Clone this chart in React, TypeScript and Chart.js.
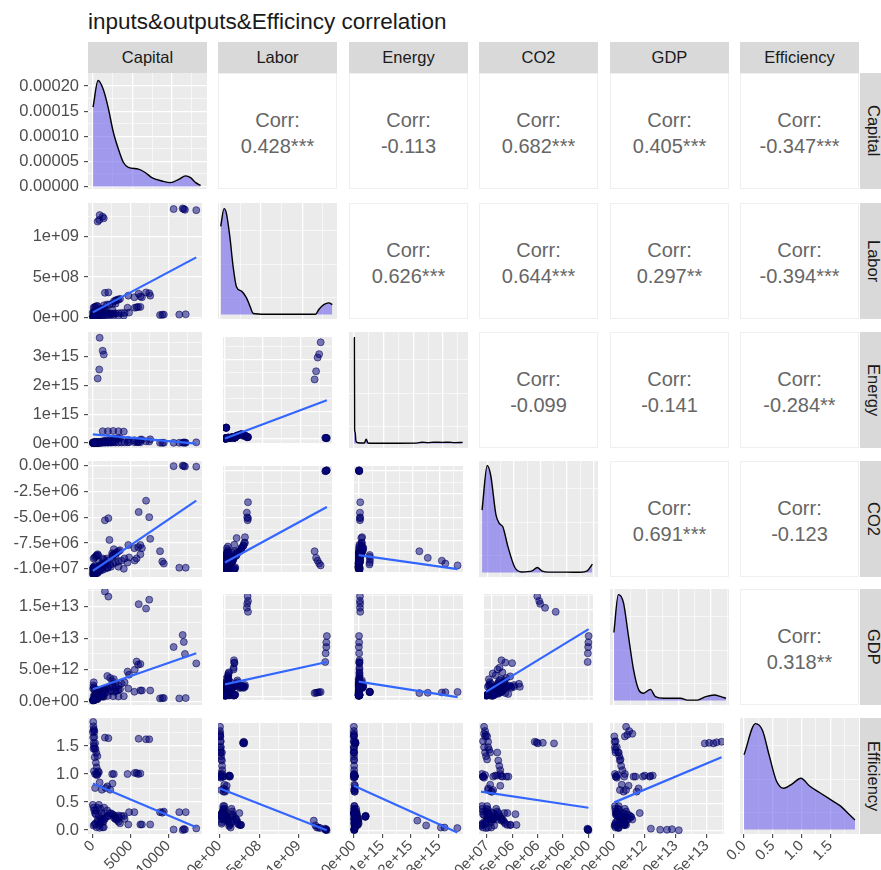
import React, { useEffect, useRef } from 'react';
import { Chart, registerables } from 'chart.js';
Chart.register(...registerables);

const FONT = '"Liberation Sans", Arial, Helvetica, sans-serif';
Chart.defaults.font.family = FONT;

const variables = ['Capital', 'Labor', 'Energy', 'CO2', 'GDP', 'Efficiency'];
const chartTitle = 'inputs&outputs&Efficincy correlation';

// ---- observations (groups of country-years) ----
const capital = [
  10700, 11900, 12050, 12200, 13700,
  640, 850, 1450, 1300, 900,
  1600, 2060, 7470, 6070, 7050,
  4600, 5550, 5800, 6000, 6300,
  8900, 9200, 9400, 11450, 12300,
  1300, 2000, 2700, 3400, 4100,
  5500, 4700, 6300, 6500, 7600,
  50, 80, 120, 160, 200,
  200, 300, 350, 450, 600,
  100, 250, 400, 500, 700,
  640, 2560, 2780, 2300, 1920,
  150, 300, 450, 550, 800,
  300, 900, 1200, 1700, 2600,
  0, 100, 200, 300, 400,
  800, 1000, 1200, 1400, 1600,
  1500, 1900, 2200, 2600, 3000,
  2800, 3000, 3200, 3400, 3600,
  100, 250, 350, 500, 650,
  3000, 3400, 3800, 4200, 4800,
  400, 600, 800, 1000, 1200,
  1000, 1300, 1600, 2000, 2400,
  0, 50, 100, 150, 250,
];
const labor = [
  1.345e9, 1.352e9, 1.345e9, 1.336e9, 1.331e9,
  1.19e9, 1.21e9, 1.23e9, 1.25e9, 1.27e9,
  0.305e9, 0.31e9, 0.30e9, 0.295e9, 0.31e9,
  0.12e9, 0.12e9, 0.125e9, 0.13e9, 0.13e9,
  0.03e9, 0.032e9, 0.035e9, 0.035e9, 0.038e9,
  0.02e9, 0.021e9, 0.022e9, 0.022e9, 0.023e9,
  0.25e9, 0.27e9, 0.26e9, 0.25e9, 0.27e9,
  0.006e9, 0.006e9, 0.007e9, 0.007e9, 0.007e9,
  0.015e9, 0.016e9, 0.017e9, 0.018e9, 0.02e9,
  0.03e9, 0.03e9, 0.032e9, 0.034e9, 0.035e9,
  0.04e9, 0.045e9, 0.045e9, 0.05e9, 0.05e9,
  0.008e9, 0.01e9, 0.012e9, 0.012e9, 0.015e9,
  0.02e9, 0.06e9, 0.07e9, 0.08e9, 0.09e9,
  0.06e9, 0.065e9, 0.07e9, 0.07e9, 0.075e9,
  0.09e9, 0.1e9, 0.1e9, 0.11e9, 0.11e9,
  0.15e9, 0.16e9, 0.16e9, 0.17e9, 0.17e9,
  0.2e9, 0.21e9, 0.22e9, 0.22e9, 0.23e9,
  0.12e9, 0.13e9, 0.13e9, 0.14e9, 0.14e9,
  0.05e9, 0.05e9, 0.055e9, 0.055e9, 0.06e9,
  0.04e9, 0.045e9, 0.045e9, 0.05e9, 0.05e9,
  0.025e9, 0.028e9, 0.03e9, 0.032e9, 0.035e9,
  0.01e9, 0.01e9, 0.011e9, 0.012e9, 0.012e9,
];
const energy = [
  0.01e15, 0.015e15, 0.02e15, 0.02e15, 0.025e15,
  2.24e15, 2.55e15, 3.07e15, 3.2e15, 3.65e15,
  0.05e15, 0.05e15, 0.055e15, 0.05e15, 0.06e15,
  0.03e15, 0.03e15, 0.035e15, 0.03e15, 0.03e15,
  0.01e15, 0.01e15, 0.012e15, 0.012e15, 0.01e15,
  0.41e15, 0.41e15, 0.42e15, 0.41e15, 0.40e15,
  0.10e15, 0.11e15, 0.12e15, 0.12e15, 0.13e15,
  0.002e15, 0.002e15, 0.003e15, 0.003e15, 0.003e15,
  0.005e15, 0.005e15, 0.006e15, 0.006e15, 0.007e15,
  0.01e15, 0.01e15, 0.011e15, 0.012e15, 0.012e15,
  0.02e15, 0.03e15, 0.03e15, 0.035e15, 0.03e15,
  0.004e15, 0.004e15, 0.005e15, 0.005e15, 0.006e15,
  0.01e15, 0.02e15, 0.025e15, 0.03e15, 0.04e15,
  0.02e15, 0.02e15, 0.022e15, 0.022e15, 0.025e15,
  0.04e15, 0.045e15, 0.05e15, 0.05e15, 0.055e15,
  0.08e15, 0.09e15, 0.1e15, 0.11e15, 0.12e15,
  0.14e15, 0.15e15, 0.16e15, 0.16e15, 0.17e15,
  0.03e15, 0.03e15, 0.032e15, 0.035e15, 0.035e15,
  0.02e15, 0.02e15, 0.022e15, 0.025e15, 0.03e15,
  0.015e15, 0.015e15, 0.016e15, 0.018e15, 0.02e15,
  0.012e15, 0.013e15, 0.014e15, 0.015e15, 0.016e15,
  0.002e15, 0.002e15, 0.002e15, 0.003e15, 0.003e15,
];
const co2 = [
  -0.05e6, 0, -0.03e6, -0.08e6, -0.1e6,
  -8.6e6, -9.3e6, -9.6e6, -9.9e6, -10.1e6,
  -5.3e6, -5.1e6, -5.0e6, -4.5e6, -3.4e6,
  -9.4e6, -9.2e6, -9.0e6, -7.9e6, -8.6e6,
  -8.3e6, -9.3e6, -9.5e6, -9.9e6, -9.9e6,
  -9.0e6, -9.2e6, -9.5e6, -9.8e6, -10.0e6,
  -8.0e6, -7.7e6, -7.7e6, -8.0e6, -7.1e6,
  -10.3e6, -10.2e6, -10.3e6, -10.1e6, -10.2e6,
  -10.4e6, -10.3e6, -10.2e6, -10.1e6, -10.0e6,
  -9.0e6, -8.9e6, -8.8e6, -8.7e6, -8.7e6,
  -10.4e6, -8.5e6, -8.1e6, -9.6e6, -9.9e6,
  -10.5e6, -10.4e6, -10.4e6, -10.3e6, -10.2e6,
  -9.9e6, -9.7e6, -9.5e6, -9.4e6, -8.7e6,
  -10.5e6, -10.5e6, -10.4e6, -10.4e6, -10.3e6,
  -9.8e6, -9.7e6, -9.7e6, -9.6e6, -9.5e6,
  -9.1e6, -9.0e6, -7.2e6, -8.8e6, -8.7e6,
  -8.6e6, -8.5e6, -8.4e6, -8.3e6, -8.2e6,
  -10.6e6, -10.5e6, -10.5e6, -10.4e6, -10.3e6,
  -9.4e6, -9.3e6, -9.2e6, -9.0e6, -8.9e6,
  -10.1e6, -10.0e6, -10.0e6, -9.9e6, -9.9e6,
  -10.2e6, -10.1e6, -10.0e6, -9.9e6, -9.8e6,
  -10.0e6, -9.9e6, -9.9e6, -9.8e6, -9.7e6,
];
const gdp = [
  8.6e12, 10.5e12, 9.4e12, 7.5e12, 6.0e12,
  0.6e12, 0.65e12, 0.7e12, 0.75e12, 0.8e12,
  17.4e12, 16.6e12, 16.1e12, 15.4e12, 14.7e12,
  4.7e12, 5.0e12, 6.3e12, 5.8e12, 5.9e12,
  0.45e12, 0.5e12, 0.5e12, 0.45e12, 0.5e12,
  0.8e12, 0.85e12, 0.8e12, 0.75e12, 0.8e12,
  1.5e12, 2.0e12, 1.7e12, 1.7e12, 1.7e12,
  2.0e12, 2.5e12, 3.0e12, 2.2e12, 1.8e12,
  0.3e12, 0.5e12, 0.7e12, 0.9e12, 1.1e12,
  0.8e12, 1.0e12, 1.2e12, 1.4e12, 1.8e12,
  1.7e12, 3.2e12, 3.5e12, 3.7e12, 4.0e12,
  0.2e12, 0.3e12, 0.4e12, 0.5e12, 0.6e12,
  1.0e12, 1.3e12, 1.6e12, 2.0e12, 2.4e12,
  0.2e12, 0.25e12, 0.3e12, 0.35e12, 0.4e12,
  1.2e12, 1.4e12, 1.5e12, 1.6e12, 1.8e12,
  1.8e12, 2.0e12, 2.2e12, 2.5e12, 2.8e12,
  1.5e12, 1.6e12, 1.7e12, 1.8e12, 1.9e12,
  0.15e12, 0.2e12, 0.25e12, 0.3e12, 0.35e12,
  2.2e12, 2.5e12, 2.8e12, 3.0e12, 4.2e12,
  0.6e12, 0.7e12, 0.8e12, 0.9e12, 1.0e12,
  0.9e12, 1.1e12, 1.3e12, 1.5e12, 1.7e12,
  0.1e12, 0.15e12, 0.2e12, 0.25e12, 0.3e12,
];
const efficiency = [
  0.01, 0.0, 0.02, 0.01, 0.03,
  0.18, 0.09, 0.05, 0.05, 0.04,
  1.65, 1.64, 1.62, 1.63, 1.62,
  1.0, 1.02, 1.02, 1.0, 1.01,
  0.32, 0.31, 0.33, 0.32, 0.32,
  0.26, 0.25, 0.27, 0.26, 0.25,
  0.32, 0.1, 0.1, 0.1, 0.1,
  1.93, 1.85, 1.8, 1.78, 1.75,
  1.66, 1.55, 1.45, 1.38, 1.32,
  1.45, 1.3, 1.2, 1.12, 1.05,
  1.0, 1.0, 1.0, 0.72, 0.78,
  1.05, 1.0, 1.0, 0.98, 1.03,
  0.75, 0.85, 0.72, 0.75, 0.83,
  0.45, 0.4, 0.35, 0.3, 0.28,
  0.25, 0.2, 0.18, 0.15, 0.22,
  0.4, 0.35, 0.3, 0.28, 0.25,
  0.22, 0.2, 0.18, 0.15, 0.12,
  0.08, 0.1, 0.12, 0.05, 0.15,
  0.2, 0.22, 0.25, 0.2, 0.32,
  0.35, 0.4, 0.45, 0.38, 0.3,
  0.12, 0.15, 0.2, 0.25, 0.3,
  1.75, 1.65, 1.55, 1.5, 1.45,
];
const series = [capital, labor, energy, co2, gdp, efficiency];

// ---- diagonal densities ----
const capitalDensX = [0, 640, 1280, 1920, 2560, 3200, 3840, 4480, 5760, 6616, 7460, 8740, 9815, 10877, 11735, 12375, 13014, 13654];
const capitalDensY = [1.58e-4, 2.11e-4, 1.94e-4, 1.57e-4, 1.09e-4, 7.53e-5, 4.82e-5, 3.81e-5, 3.46e-5, 2.79e-5, 1.77e-5, 1.1e-5, 7.6e-6, 1.43e-5, 2.12e-5, 1.77e-5, 7.6e-6, 2.1e-6];
const laborDensX = [0.013e9, 0.053e9, 0.081e9, 0.123e9, 0.163e9, 0.203e9, 0.264e9, 0.325e9, 0.367e9, 0.407e9, 0.55e9, 1.16e9, 1.2e9, 1.26e9, 1.322e9, 1.363e9];
const laborDensY = [0.79, 0.95, 0.91, 0.70, 0.43, 0.25, 0.21, 0.15, 0.074, 0.009, 0.002, 0.002, 0.045, 0.089, 0.105, 0.089];
const energyDensX = [0, 0.012e15, 0.02e15, 0.04e15, 0.06e15, 0.1e15, 0.2e15, 0.35e15, 0.41e15, 0.47e15, 0.6e15, 1.5e15, 2.1e15, 2.3e15, 2.5e15, 2.7e15, 3.0e15, 3.2e15, 3.4e15, 3.67e15];
const energyDensY = [0.95, 0.95, 0.12, 0.1, 0.03, 0.01, 0.005, 0.005, 0.04, 0.005, 0.003, 0.003, 0.004, 0.012, 0.008, 0.012, 0.01, 0.012, 0.008, 0.01];
const co2DensX = [-10.51e6, -10.02e6, -9.69e6, -9.2e6, -8.88e6, -8.55e6, -8.06e6, -7.41e6, -6.76e6, -5.78e6, -5.29e6, -4.81e6, -4.16e6, -3.17e6, -1.87e6, -1.22e6, -0.57e6, -0.08e6];
const co2DensY = [0.56, 0.96, 0.87, 0.52, 0.44, 0.41, 0.23, 0.045, 0.005, 0.015, 0.045, 0.012, 0.004, 0.004, 0.003, 0.003, 0.015, 0.075];
const gdpDensX = [0, 0.69e12, 1.47e12, 2.25e12, 3.03e12, 3.81e12, 4.59e12, 5.64e12, 6.42e12, 7.71e12, 10.31e12, 11.36e12, 12.92e12, 14.21e12, 15.5e12, 16.55e12, 17.33e12];
const gdpDensY = [0.61, 0.95, 0.88, 0.58, 0.28, 0.10, 0.065, 0.10, 0.035, 0.02, 0.02, 0.004, 0.004, 0.035, 0.05, 0.035, 0.02];
const efficiencyDensX = [0, 0.2, 0.32, 0.44, 0.56, 0.69, 0.84, 0.99, 1.14, 1.32, 1.5, 1.68, 1.84, 1.93];
const efficiencyDensY = [0.67, 0.95, 0.89, 0.66, 0.44, 0.37, 0.41, 0.46, 0.39, 0.33, 0.27, 0.21, 0.13, 0.085];
const densX = [capitalDensX, laborDensX, energyDensX, co2DensX, gdpDensX, efficiencyDensX];
const densY = [capitalDensY, laborDensY, energyDensY, co2DensY, gdpDensY, efficiencyDensY];

// ---- linear fits (endpoints) ----
const fitLines = [
  { row: 1, col: 0, from: [0, 0.062e9], to: [13700, 0.745e9] },
  { row: 2, col: 0, from: [0, 0.3e15], to: [13700, -0.02e15] },
  { row: 2, col: 1, from: [0.006e9, 0.0], to: [1.352e9, 1.45e15] },
  { row: 3, col: 0, from: [0, -10.2e6], to: [13700, -3.4e6] },
  { row: 3, col: 1, from: [0.006e9, -9.8e6], to: [1.352e9, -3.9e6] },
  { row: 3, col: 2, from: [0.002e15, -9.0e6], to: [3.65e15, -10.5e6] },
  { row: 4, col: 0, from: [0, 1.9e12], to: [13700, 7.6e12] },
  { row: 4, col: 1, from: [0.006e9, 2.1e12], to: [1.352e9, 6.0e12] },
  { row: 4, col: 2, from: [0.002e15, 2.6e12], to: [3.65e15, -0.1e12] },
  { row: 4, col: 3, from: [-10.6e6, 0.8e12], to: [0, 11.7e12] },
  { row: 5, col: 0, from: [0, 0.83], to: [13700, 0.05] },
  { row: 5, col: 1, from: [0.006e9, 0.78], to: [1.352e9, 0.0] },
  { row: 5, col: 2, from: [0.002e15, 0.83], to: [3.65e15, -0.04] },
  { row: 5, col: 3, from: [-10.6e6, 0.72], to: [0, 0.42] },
  { row: 5, col: 4, from: [0.1e12, 0.52], to: [17.4e12, 1.36] },
];

// ---- correlation texts (upper triangle) ----
const corrRows = [0, 0, 0, 0, 0, 1, 1, 1, 1, 2, 2, 2, 3, 3, 4];
const corrCols = [1, 2, 3, 4, 5, 2, 3, 4, 5, 3, 4, 5, 4, 5, 5];
const corrValues = ['0.428***', '-0.113', '0.682***', '0.405***', '-0.347***', '0.626***', '0.644***', '0.297**', '-0.394***', '-0.099', '-0.141', '-0.284**', '0.691***', '-0.123', '0.318**'];

// ---- axes ----
const ranges = [[-640, 14460], [-0.02e9, 1.42e9], [-0.17e15, 3.85e15], [-10.8e6, 0.45e6], [-0.06e13, 1.78e13], [-0.07, 2.0]];
const majorTicks = [
  [0, 5000, 10000],
  [0, 5e8, 1e9],
  [0, 1e15, 2e15, 3e15],
  [-1e7, -7.5e6, -5e6, -2.5e6, 0],
  [0, 5e12, 1e13, 1.5e13],
  [0, 0.5, 1, 1.5],
];
const minorTicks = [
  [2500, 7500, 12500],
  [2.5e8, 7.5e8, 1.25e9],
  [0.5e15, 1.5e15, 2.5e15, 3.5e15],
  [-8.75e6, -6.25e6, -3.75e6, -1.25e6],
  [2.5e12, 7.5e12, 1.25e13, 1.75e13],
  [0.25, 0.75, 1.25, 1.75],
];
const tickLabels = [
  ['0', '5000', '10000'],
  ['0e+00', '5e+08', '1e+09'],
  ['0e+00', '1e+15', '2e+15', '3e+15'],
  ['-1.0e+07', '-7.5e+06', '-5.0e+06', '-2.5e+06', '0.0e+00'],
  ['0.0e+00', '5.0e+12', '1.0e+13', '1.5e+13'],
  ['0.0', '0.5', '1.0', '1.5'],
];
const capDensRange = [-0.000005, 0.000226];
const capDensMajor = [0, 0.00005, 0.0001, 0.00015, 0.0002];
const capDensMinor = [0.000025, 0.000075, 0.000125, 0.000175];
const capDensLabels = ['0.00000', '0.00005', '0.00010', '0.00015', '0.00020'];
const relDensRange = [-0.04, 1.0];
const relDensMajor = [0, 0.3, 0.6, 0.9];
const relDensMinor = [0.15, 0.45, 0.75];

// ---- layout ----
const COL_X = [88, 218, 349, 479, 610, 740];
const ROW_Y = [73, 203, 332, 461, 589, 718];
const PW = 119;
const PH = 116;
const BOTTOM = 870;

const POINT_FILL = 'rgba(0,0,120,0.5)';
const POINT_EDGE = 'rgba(0,0,90,0.55)';
const FIT_COLOR = '#3366FF';
const DENS_FILL = 'rgba(100,85,235,0.55)';

const close = (a: number, b: number) => Math.abs(a - b) <= 1e-9 * Math.max(1, Math.abs(a), Math.abs(b));

function makeScale(axis: 'x' | 'y', range: number[], majors: number[], minors: number[], labels: string[], show: boolean, size: number) {
  const all = [...majors, ...minors].filter(v => v >= range[0] && v <= range[1]).sort((a, b) => a - b);
  const isMajor = (v: number) => majors.some(m => close(m, v));
  return {
    type: 'linear',
    position: axis === 'x' ? 'bottom' : 'left',
    min: range[0],
    max: range[1],
    afterBuildTicks: (sc: any) => { sc.ticks = all.map(v => ({ value: v })); },
    afterFit: (sc: any) => {
      if (axis === 'x') sc.height = show ? size : 0; else sc.width = show ? size : 0;
      sc.paddingLeft = 0; sc.paddingRight = 0; sc.paddingTop = 0; sc.paddingBottom = 0;
    },
    ticks: {
      display: show,
      autoSkip: false,
      color: '#4D4D4D',
      font: { size: axis === 'x' ? 15 : 16.5, family: FONT },
      padding: axis === 'x' ? -1 : 5,
      maxRotation: axis === 'x' ? 45 : 0,
      minRotation: axis === 'x' ? 45 : 0,
      callback: (v: number) => {
        const k = majors.findIndex(m => close(m, v));
        return k >= 0 ? labels[k] : '';
      },
    },
    grid: {
      display: true,
      drawOnChartArea: true,
      drawTicks: show,
      tickLength: 4,
      color: '#FFFFFF',
      lineWidth: (ctx: any) => (ctx.tick && isMajor(ctx.tick.value) ? 1.3 : 0.6),
      tickColor: (ctx: any) => (ctx.tick && isMajor(ctx.tick.value) ? '#333333' : 'rgba(0,0,0,0)'),
      tickWidth: 1,
    },
    border: { display: false },
  };
}

const bgPlugin = {
  id: 'panelBg',
  beforeDraw(chart: any) {
    const { ctx, chartArea: a } = chart;
    ctx.save();
    ctx.fillStyle = '#EBEBEB';
    ctx.fillRect(a.left, a.top, a.right - a.left, a.bottom - a.top);
    ctx.restore();
  },
};

type Spec = { r: number; c: number; left: number; top: number; width: number; height: number; padL: number; padT: number; padB: number };

function buildSpecs(): Spec[] {
  const out: Spec[] = [];
  for (let r = 0; r < 6; r++) {
    for (let c = 0; c <= r; c++) {
      const extraL = c === 0 ? COL_X[0] : (r === 5 ? 75 : 0);
      const padT = c === 0 ? 12 : 0;
      const padB = r === 5 ? 0 : (c === 0 ? 12 : 0);
      const left = COL_X[c] - extraL;
      const top = ROW_Y[r] - padT;
      const bottom = r === 5 ? BOTTOM : ROW_Y[r] + PH + padB;
      out.push({ r, c, left, top, width: COL_X[c] + PW - left, height: bottom - top, padL: c === 0 ? 0 : extraL, padT, padB });
    }
  }
  return out;
}

function createPanel(canvas: HTMLCanvasElement, s: Spec) {
  const { r, c } = s;
  const showX = r === 5;
  const showY = c === 0;
  const datasets: any[] = [];
  if (r === c) {
    datasets.push({
      type: 'line',
      data: densX[c].map((x, i) => ({ x, y: densY[c][i] })),
      borderColor: '#000000',
      borderWidth: 1.4,
      backgroundColor: DENS_FILL,
      fill: { value: 0 },
      pointRadius: 0,
      cubicInterpolationMode: 'monotone',
      clip: 0,
    });
  } else {
    const f = fitLines.find(l => l.row === r && l.col === c)!;
    datasets.push({
      type: 'line',
      data: [{ x: f.from[0], y: f.from[1] }, { x: f.to[0], y: f.to[1] }],
      borderColor: FIT_COLOR,
      borderWidth: 2.2,
      pointRadius: 0,
      fill: false,
      order: 0,
      clip: 0,
    });
    const xs = series[c];
    const ys = series[r];
    datasets.push({
      type: 'scatter',
      data: xs.map((x, i) => ({ x, y: ys[i] })),
      pointRadius: 3.5,
      pointBackgroundColor: POINT_FILL,
      pointBorderColor: POINT_EDGE,
      pointBorderWidth: 1,
      order: 1,
      clip: 0,
    });
  }
  const xScale = makeScale('x', ranges[c], majorTicks[c], minorTicks[c], tickLabels[c], showX, BOTTOM - (ROW_Y[5] + PH));
  let yScale;
  if (r === c && r === 0) yScale = makeScale('y', capDensRange, capDensMajor, capDensMinor, capDensLabels, showY, COL_X[0]);
  else if (r === c) yScale = makeScale('y', relDensRange, relDensMajor, relDensMinor, [], false, 0);
  else yScale = makeScale('y', ranges[r], majorTicks[r], minorTicks[r], tickLabels[r], showY, COL_X[0]);
  return new Chart(canvas, {
    type: 'scatter',
    data: { datasets },
    options: {
      animation: false,
      responsive: false,
      maintainAspectRatio: false,
      events: [],
      layout: { padding: { left: s.padL, right: 0, top: s.padT, bottom: s.padB } },
      plugins: { legend: { display: false }, tooltip: { enabled: false } },
      scales: { x: xScale as any, y: yScale as any },
    },
    plugins: [bgPlugin],
  } as any);
}

export default function App() {
  const refs = useRef<(HTMLCanvasElement | null)[]>([]);
  const specs = buildSpecs();
  useEffect(() => {
    const charts = specs.map((s, i) => createPanel(refs.current[i] as HTMLCanvasElement, s));
    return () => charts.forEach(ch => ch.destroy());
  }, []);
  return (
    <div style={{ position: 'absolute', left: 0, top: 0, width: 881, height: 870, overflow: 'hidden', background: '#FFFFFF', fontFamily: FONT }}>
      <div style={{ position: 'absolute', left: 88, top: 9, fontSize: 22.5, lineHeight: '26px', color: '#1A1A1A', whiteSpace: 'nowrap' }}>{chartTitle}</div>
      {variables.map((v, c) => (
        <div key={'ts' + c} style={{ position: 'absolute', left: COL_X[c], top: 42, width: PW, height: 31, background: '#D9D9D9', color: '#1A1A1A', fontSize: 16.5, display: 'flex', alignItems: 'center', justifyContent: 'center' }}>{v}</div>
      ))}
      {variables.map((v, r) => (
        <div key={'rs' + r} style={{ position: 'absolute', left: 860, top: ROW_Y[r], width: 26, height: PH, background: '#D9D9D9', color: '#1A1A1A', fontSize: 16.5, display: 'flex', alignItems: 'center', justifyContent: 'center' }}>
          <span style={{ writingMode: 'vertical-rl' }}>{v}</span>
        </div>
      ))}
      {corrValues.map((val, i) => (
        <div key={'cr' + i} style={{ position: 'absolute', left: COL_X[corrCols[i]], top: ROW_Y[corrRows[i]], width: PW, height: PH, boxSizing: 'border-box', border: '1px solid #EFEFEF', background: '#FFFFFF', color: '#666666', fontSize: 20, lineHeight: '26px', display: 'flex', flexDirection: 'column', alignItems: 'center', justifyContent: 'center', paddingTop: 4 }}>
          <div>Corr:</div>
          <div>{val}</div>
        </div>
      ))}
      {specs.map((s, i) => (
        <canvas key={'cv' + i} ref={el => { refs.current[i] = el; }} width={s.width} height={s.height} style={{ position: 'absolute', left: s.left, top: s.top, width: s.width, height: s.height }} />
      ))}
    </div>
  );
}
